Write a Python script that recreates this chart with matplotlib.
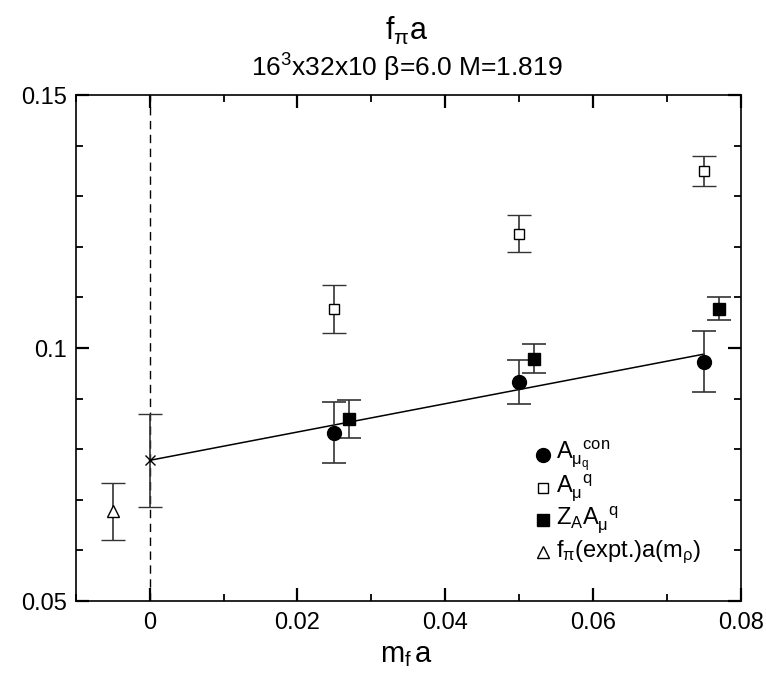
import numpy as np
import matplotlib
matplotlib.use('Agg')
import matplotlib.pyplot as plt
from matplotlib.ticker import MultipleLocator, FixedLocator

plt.rcParams['font.family'] = ['Liberation Sans', 'DejaVu Sans']
plt.rcParams['mathtext.fontset'] = 'custom'
plt.rcParams['mathtext.rm'] = 'Liberation Sans'
plt.rcParams['mathtext.it'] = 'Liberation Sans'
plt.rcParams['mathtext.bf'] = 'Liberation Sans:bold'

# data
# A_mu_q^con (filled circles)
con_x = [0.025, 0.050, 0.075]
con_y = [0.0833, 0.0933, 0.0973]
con_err = [0.0061, 0.0044, 0.0060]
# A_mu^q (open squares)
loc_x = [0.025, 0.050, 0.075]
loc_y = [0.1077, 0.1226, 0.1350]
loc_err = [0.0047, 0.0036, 0.0029]
# Z_A A_mu^q (filled squares)
za_x = [0.027, 0.052, 0.077]
za_y = [0.0860, 0.0979, 0.1078]
za_err = [0.0037, 0.0028, 0.0023]
# chiral limit of the fit
chi_x = [0.0]
chi_y = [0.0778]
chi_err = [0.0092]
# experiment
exp_x = [-0.005]
exp_y = [0.0677]
exp_err = [0.0056]
# linear fit
fit_x = [0.0, 0.075]
fit_y = [0.0778, 0.0988]

xticks = [0, 0.02, 0.04, 0.06, 0.08]
xticklabels = ['0', '0.02', '0.04', '0.06', '0.08']
yticks = [0.05, 0.1, 0.15]
yticklabels = ['0.05', '0.1', '0.15']

fig = plt.figure(figsize=(7.66, 6.75), dpi=100)
ax = fig.add_axes([0.0988, 0.1096, 0.8686, 0.7496])

ebkw = dict(ecolor='#333333', elinewidth=1.2, capsize=8.3, capthick=1.2, linestyle='none')
ax.axvline(0, color='black', lw=1.0, ls=(0, (6, 4)), zorder=1)
ax.plot(fit_x, fit_y, color='black', lw=1.1, zorder=2)
ax.errorbar(con_x, con_y, yerr=con_err, marker='o', ms=10, mfc='black', mec='black', **ebkw)
ax.errorbar(loc_x, loc_y, yerr=loc_err, marker='s', ms=7.5, mfc='white', mec='black', mew=1.0, **ebkw)
ax.errorbar(za_x, za_y, yerr=za_err, marker='s', ms=8, mfc='black', mec='black', **ebkw)
ax.errorbar(chi_x, chi_y, yerr=chi_err, marker='x', ms=7, mec='black', mew=1.0, **ebkw)
ax.errorbar(exp_x, exp_y, yerr=exp_err, marker='^', ms=8.5, mfc='white', mec='black', mew=1.0, **ebkw)

ax.set_xlim(-0.01, 0.08)
ax.set_ylim(0.05, 0.15)
ax.xaxis.set_major_locator(FixedLocator(xticks))
ax.set_xticklabels(xticklabels, fontsize=17)
ax.xaxis.set_minor_locator(MultipleLocator(0.01))
ax.yaxis.set_major_locator(FixedLocator(yticks))
ax.set_yticklabels(yticklabels, fontsize=17)
ax.yaxis.set_minor_locator(MultipleLocator(0.01))
ax.tick_params(which='both', direction='in', top=True, right=True)
ax.tick_params(which='major', length=9.5, width=1.6)
ax.tick_params(axis='x', which='major', pad=8)
ax.tick_params(axis='y', which='major', pad=6)
ax.tick_params(which='minor', length=5, width=1.3)
for s in ax.spines.values():
    s.set_linewidth(1.2)

fig.text(0.531, 1 - 662 / 675, '$m_{f}\\,a$', fontsize=21, ha='center', va='baseline')
fig.text(0.531, 1 - 40 / 675, '$f_{\\pi}a$', fontsize=22, ha='center', va='baseline')
fig.text(0.531, 1 - 77 / 675, '$16^{3}$x32x10 \u03b2=6.0 M=1.819', fontsize=19,
         ha='center', va='baseline')

# legend drawn by hand
leg_items = [
    ('o', 'black', 10, '$A_{\\mu_q}^{\\ \\ con}$'),
    ('s', 'white', 7.5, '$A_{\\mu}^{\\ \\ q}$'),
    ('s', 'black', 8, '$Z_{A}A_{\\mu}^{\\ \\ q}$'),
    ('^', 'white', 8.5, '$f_{\\pi}$(expt.)a(m$_{\\rho}$)'),
]
leg_x = 0.702
leg_y = [0.288, 0.223, 0.160, 0.097]
for (mk, fc, ms, lab), yy in zip(leg_items, leg_y):
    ax.plot([leg_x], [yy], marker=mk, ms=ms, mfc=fc, mec='black', mew=1.0,
            transform=ax.transAxes, clip_on=False, linestyle='none')
    ax.text(leg_x + 0.02, yy, lab, transform=ax.transAxes, fontsize=17,
            ha='left', va='center')

fig.savefig('out.png', dpi=100)
